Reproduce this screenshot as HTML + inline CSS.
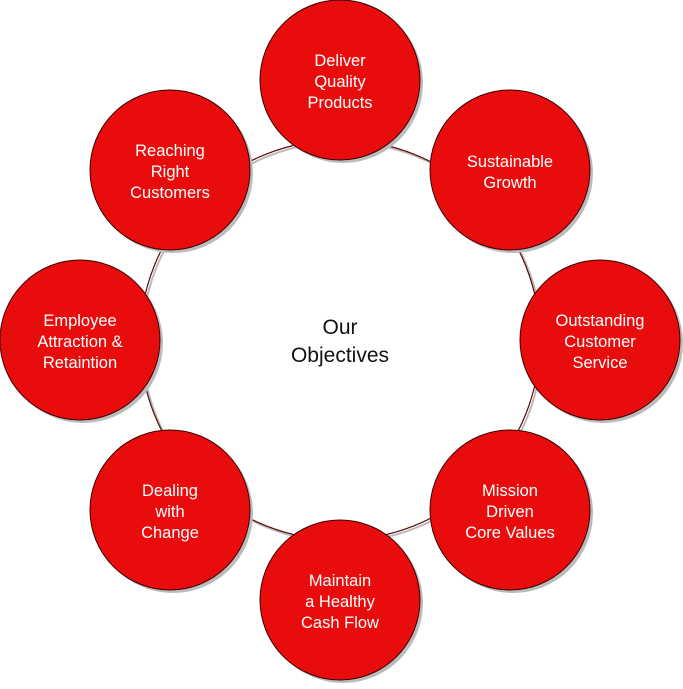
<!DOCTYPE html><html><head><style>body{margin:0;background:#fff}</style></head><body>
<svg width="683" height="684" viewBox="0 0 683 684" xmlns="http://www.w3.org/2000/svg" font-family="Liberation Sans, sans-serif">
<circle cx="342" cy="342" r="200" fill="none" stroke="#bbb" stroke-width="2"/>
<circle cx="340" cy="340" r="200" fill="none" stroke="#5a0a0a" stroke-width="1.2"/>
<g stroke="#3a0000" stroke-width="1" fill="#e80c0c">
<circle cx="343" cy="83" r="80" fill="#bbb" stroke="none"/><circle cx="340" cy="80" r="80"/>
<circle cx="513" cy="173" r="80" fill="#bbb" stroke="none"/><circle cx="510" cy="170" r="80"/>
<circle cx="603" cy="343" r="80" fill="#bbb" stroke="none"/><circle cx="600" cy="340" r="80"/>
<circle cx="513" cy="513" r="80" fill="#bbb" stroke="none"/><circle cx="510" cy="510" r="80"/>
<circle cx="343" cy="603" r="80" fill="#bbb" stroke="none"/><circle cx="340" cy="600" r="80"/>
<circle cx="173" cy="513" r="80" fill="#bbb" stroke="none"/><circle cx="170" cy="510" r="80"/>
<circle cx="83" cy="343" r="80" fill="#bbb" stroke="none"/><circle cx="80" cy="340" r="80"/>
<circle cx="173" cy="173" r="80" fill="#bbb" stroke="none"/><circle cx="170" cy="170" r="80"/>
</g>
<g fill="#fff" font-size="16.5" text-anchor="middle">
<text x="340" y="66">Deliver</text><text x="340" y="87">Quality</text><text x="340" y="108">Products</text>
<text x="510" y="167">Sustainable</text><text x="510" y="188">Growth</text>
<text x="600" y="326">Outstanding</text><text x="600" y="347">Customer</text><text x="600" y="368">Service</text>
<text x="510" y="496">Mission</text><text x="510" y="517">Driven</text><text x="510" y="538">Core Values</text>
<text x="340" y="586">Maintain</text><text x="340" y="607">a Healthy</text><text x="340" y="628">Cash Flow</text>
<text x="170" y="496">Dealing</text><text x="170" y="517">with</text><text x="170" y="538">Change</text>
<text x="80" y="326">Employee</text><text x="80" y="347">Attraction &amp;</text><text x="80" y="368">Retaintion</text>
<text x="170" y="156">Reaching</text><text x="170" y="177">Right</text><text x="170" y="198">Customers</text>
</g>
<g fill="#111" font-size="21" text-anchor="middle">
<text x="340" y="334">Our</text><text x="340" y="362">Objectives</text>
</g>
</svg>
</body></html>
